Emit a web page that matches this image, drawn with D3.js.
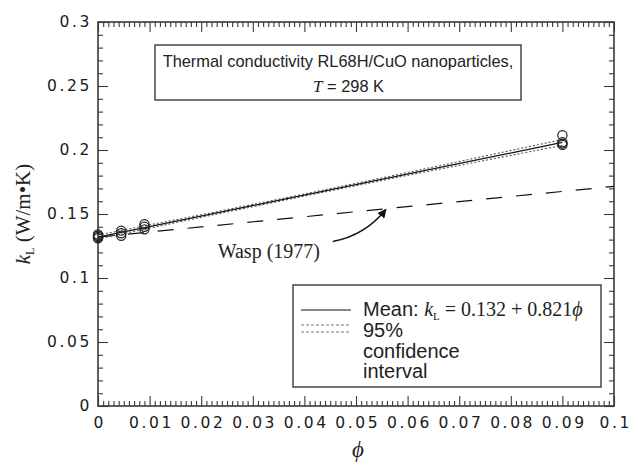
<!DOCTYPE html>
<html>
<head>
<meta charset="utf-8">
<script src="https://cdn.jsdelivr.net/npm/d3@7"></script>
<style>
  body { margin: 0; background: #fff; }
  svg { display: block; }
</style>
</head>
<body>
<div id="chart"></div>
<script>
// measured points, phi (volume fraction) and k_L (W/m.K)
const pointPhi = [0, 0, 0, 0, 0.0045, 0.0045, 0.0045, 0.009, 0.009, 0.009, 0.09, 0.09, 0.09, 0.09];
const pointK = [0.131, 0.132, 0.133, 0.134, 0.133, 0.135, 0.137, 0.138, 0.140, 0.142, 0.2115, 0.206, 0.205, 0.204];

// fitted mean line
const meanPhi = [0, 0.09];
const meanK = [0.132, 0.2059];

// 95% confidence band
const ciPhi = [0, 0.02, 0.04, 0.06, 0.09];
const ciUpper = [0.1336, 0.1494, 0.1656, 0.1824, 0.2082];
const ciLower = [0.1304, 0.1474, 0.1640, 0.1802, 0.2036];

// Wasp (1977) model
const waspPhi = [0, 0.1];
const waspK = [0.132, 0.1716];

const xTicks = [0, 0.01, 0.02, 0.03, 0.04, 0.05, 0.06, 0.07, 0.08, 0.09, 0.1];
const yTicks = [0, 0.05, 0.1, 0.15, 0.2, 0.25, 0.3];

const W = 638, H = 465;
const PLOT = { left: 98, right: 614, top: 22, bottom: 406 };
const AXIS_COLOR = "#3a3a3a";
const serif = "'Liberation Serif', 'Times New Roman', serif";
const sans = "'Liberation Sans', Arial, sans-serif";
const PHI = "\u03D5";

const svg = d3.select("#chart").append("svg")
  .attr("width", W)
  .attr("height", H);

const x = d3.scaleLinear().domain([0, 0.1]).range([PLOT.left, PLOT.right]);
const y = d3.scaleLinear().domain([0, 0.3]).range([PLOT.bottom, PLOT.top]);

const fmt = d => String(+d.toFixed(3));
const xMinor = d3.range(0, 101).map(i => i / 1000).filter(v => Math.round(v * 1000) % 10 !== 0);
const yMinor = d3.range(0, 31).map(i => i / 100).filter(v => Math.round(v * 100) % 5 !== 0);

function styleAxis(g) {
  g.select(".domain").remove();
  g.selectAll("line").attr("stroke", AXIS_COLOR).attr("stroke-width", 1.1);
  g.selectAll("text")
    .attr("fill", "#1a1a1a")
    .style("font-family", "'DejaVu Sans', Verdana, sans-serif")
    .style("font-size", "15.5px")
    .style("letter-spacing", "2.6px");
}

// bottom
svg.append("g")
  .attr("transform", "translate(0," + PLOT.bottom + ")")
  .call(d3.axisBottom(x).tickValues(xMinor).tickSize(-5).tickFormat(""))
  .call(styleAxis);
svg.append("g")
  .attr("transform", "translate(0," + PLOT.bottom + ")")
  .call(d3.axisBottom(x).tickValues(xTicks).tickSize(-10).tickPadding(11).tickFormat(fmt))
  .call(styleAxis)
  .selectAll("text").attr("dx", "1.3px");
// top
svg.append("g")
  .attr("transform", "translate(0," + PLOT.top + ")")
  .call(d3.axisTop(x).tickValues(xMinor).tickSize(-5).tickFormat(""))
  .call(styleAxis);
svg.append("g")
  .attr("transform", "translate(0," + PLOT.top + ")")
  .call(d3.axisTop(x).tickValues(xTicks).tickSize(-10).tickFormat(""))
  .call(styleAxis);
// left
svg.append("g")
  .attr("transform", "translate(" + PLOT.left + ",0)")
  .call(d3.axisLeft(y).tickValues(yMinor).tickSize(-5).tickFormat(""))
  .call(styleAxis);
svg.append("g")
  .attr("transform", "translate(" + PLOT.left + ",0)")
  .call(d3.axisLeft(y).tickValues(yTicks).tickSize(-10).tickPadding(6).tickFormat(fmt))
  .call(styleAxis);
// right
svg.append("g")
  .attr("transform", "translate(" + PLOT.right + ",0)")
  .call(d3.axisRight(y).tickValues(yMinor).tickSize(-5).tickFormat(""))
  .call(styleAxis);
svg.append("g")
  .attr("transform", "translate(" + PLOT.right + ",0)")
  .call(d3.axisRight(y).tickValues(yTicks).tickSize(-10).tickFormat(""))
  .call(styleAxis);

// frame
svg.append("rect")
  .attr("x", PLOT.left)
  .attr("y", PLOT.top)
  .attr("width", PLOT.right - PLOT.left)
  .attr("height", PLOT.bottom - PLOT.top)
  .attr("fill", "none")
  .attr("stroke", AXIS_COLOR)
  .attr("stroke-width", 1.6);

const line = d3.line().x(d => x(d[0])).y(d => y(d[1]));

// Wasp model
svg.append("path")
  .attr("d", line(d3.zip(waspPhi, waspK)))
  .attr("fill", "none")
  .attr("stroke", "#111")
  .attr("stroke-width", 1.2)
  .attr("stroke-dasharray", "16,14");

// confidence band
[ciUpper, ciLower].forEach(function(vals) {
  svg.append("path")
    .attr("d", line(d3.zip(ciPhi, vals)))
    .attr("fill", "none")
    .attr("stroke", "#555")
    .attr("stroke-width", 1.1)
    .attr("stroke-dasharray", "2,2");
});

// mean
svg.append("path")
  .attr("d", line(d3.zip(meanPhi, meanK)))
  .attr("fill", "none")
  .attr("stroke", "#111")
  .attr("stroke-width", 1.2);

// data points
svg.selectAll("circle.pt")
  .data(d3.zip(pointPhi, pointK))
  .join("circle")
  .attr("class", "pt")
  .attr("cx", d => x(d[0]))
  .attr("cy", d => y(d[1]))
  .attr("r", 4.6)
  .attr("fill", "none")
  .attr("stroke", "#222")
  .attr("stroke-width", 1.2);

// Wasp annotation
svg.append("defs").append("marker")
  .attr("id", "arrow")
  .attr("viewBox", "0 0 10 10")
  .attr("refX", 9)
  .attr("refY", 5)
  .attr("markerWidth", 9)
  .attr("markerHeight", 9)
  .attr("markerUnits", "userSpaceOnUse")
  .attr("orient", "auto")
  .append("path")
  .attr("d", "M0,0 L10,5 L0,10 Z")
  .attr("fill", "#111");

const ax0 = x(0.0455), ay0 = y(0.1285);
const ax1 = x(0.0558), ay1 = y(0.1535);
svg.append("path")
  .attr("d", "M" + ax0 + "," + ay0 + " Q" + (ax0 + 32) + "," + (ay0 - 6) + " " + ax1 + "," + ay1)
  .attr("fill", "none")
  .attr("stroke", "#111")
  .attr("stroke-width", 1.4)
  .attr("marker-end", "url(#arrow)");

svg.append("text")
  .attr("x", x(0.0232))
  .attr("y", y(0.1157))
  .style("font-family", serif)
  .style("font-size", "20px")
  .attr("fill", "#222")
  .text("Wasp (1977)");

// title box
svg.append("rect")
  .attr("x", 155).attr("y", 45)
  .attr("width", 366).attr("height", 55)
  .attr("fill", "#fff")
  .attr("stroke", AXIS_COLOR)
  .attr("stroke-width", 1.4);
svg.append("text")
  .attr("x", 338).attr("y", 67)
  .attr("text-anchor", "middle")
  .style("font-family", sans)
  .style("font-size", "16.4px")
  .attr("fill", "#222")
  .text("Thermal conductivity RL68H/CuO nanoparticles,");
const t2 = svg.append("text")
  .attr("x", 313).attr("y", 92)
  .attr("fill", "#222")
  .style("font-family", sans)
  .style("font-size", "16.4px");
t2.append("tspan")
  .style("font-family", serif)
  .style("font-style", "italic")
  .style("font-size", "17px")
  .text("T");
t2.append("tspan").text(" = 298 K");

// legend
svg.append("rect")
  .attr("x", 293).attr("y", 285)
  .attr("width", 308).attr("height", 102)
  .attr("fill", "#fff")
  .attr("stroke", AXIS_COLOR)
  .attr("stroke-width", 1.4);
svg.append("line")
  .attr("x1", 301).attr("x2", 351)
  .attr("y1", 310).attr("y2", 310)
  .attr("stroke", "#111").attr("stroke-width", 1.2);
[325, 332].forEach(function(ly) {
  svg.append("line")
    .attr("x1", 301).attr("x2", 351)
    .attr("y1", ly).attr("y2", ly)
    .attr("stroke", "#777").attr("stroke-width", 1)
    .attr("stroke-dasharray", "3,2");
});

const eq = svg.append("text")
  .attr("x", 363).attr("y", 316)
  .attr("fill", "#222")
  .style("font-family", sans)
  .style("font-size", "20px");
eq.append("tspan").text("Mean: ");
eq.append("tspan").style("font-family", serif).style("font-style", "italic").text("k");
eq.append("tspan").style("font-family", serif).style("font-size", "11px").attr("dy", 4).text("L");
eq.append("tspan").style("font-family", serif).attr("dy", -4).text(" = 0.132 + 0.821");
eq.append("tspan").style("font-family", serif).style("font-style", "italic").text(PHI);

["95%", "confidence", "interval"].forEach(function(s, i) {
  svg.append("text")
    .attr("x", 363).attr("y", 337 + i * 20.5)
    .attr("fill", "#222")
    .style("font-family", sans)
    .style("font-size", "20px")
    .text(s);
});

// axis titles
svg.append("text")
  .attr("x", 358).attr("y", 457)
  .attr("text-anchor", "middle")
  .attr("fill", "#222")
  .style("font-family", serif)
  .style("font-style", "italic")
  .style("font-size", "23px")
  .text(PHI);

const yl = svg.append("text")
  .attr("transform", "translate(30,214) rotate(-90)")
  .attr("text-anchor", "middle")
  .attr("fill", "#222")
  .style("font-family", serif)
  .style("font-size", "21px");
yl.append("tspan").style("font-style", "italic").text("k");
yl.append("tspan").style("font-size", "12px").attr("dy", 4).text("L");
yl.append("tspan").attr("dy", -4).text(" (W/m•K)");
</script>
</body>
</html>
